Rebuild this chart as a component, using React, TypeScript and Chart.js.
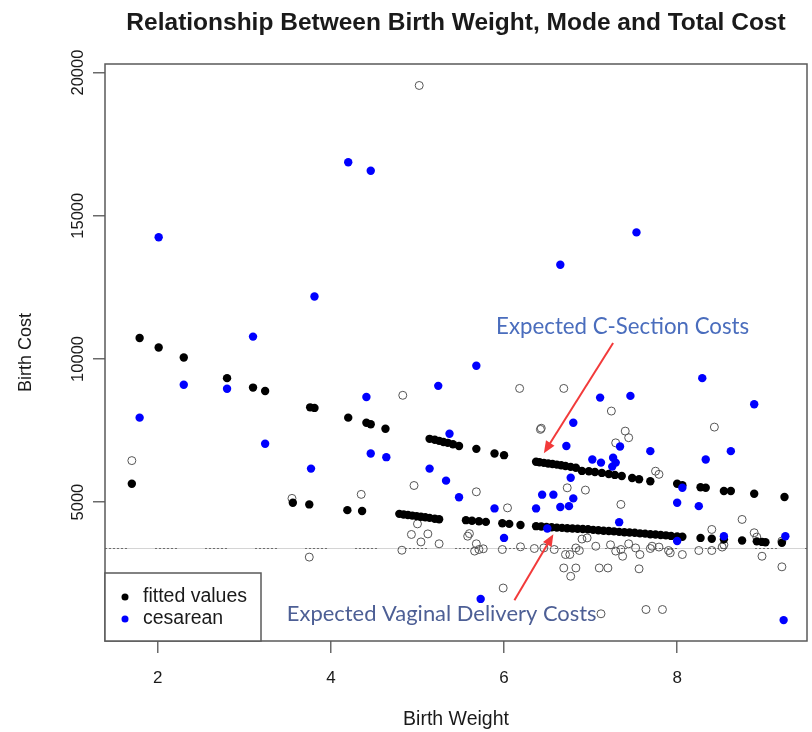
import React, { useEffect, useRef } from 'react';
import { Chart, registerables } from 'chart.js';

Chart.register(...registerables);

// ---------- text ----------
const TITLE = 'Relationship Between Birth Weight, Mode and Total Cost';
const X_LABEL = 'Birth Weight';
const Y_LABEL = 'Birth Cost';
const LEGEND_LABELS = ['fitted values', 'cesarean'];
const NOTE_CSECTION = 'Expected C-Section Costs';
const NOTE_VAGINAL = 'Expected Vaginal Delivery Costs';

// ---------- axes ----------
const X_TICKS = [2, 4, 6, 8];
const Y_TICKS = [5000, 10000, 15000, 20000];
const X_MIN = 1.39;
const X_MAX = 9.5;
const Y_MIN = 150;
const Y_MAX = 20300;
const REFERENCE_COST = 3390;

// ---------- data: [birth weight, birth cost] ----------
const fittedCesarean: number[][] = [
  [1.79, 10730], [2.01, 10400], [2.3, 10050], [2.8, 9330], [3.1, 9000], [3.24, 8880],
  [3.76, 8310], [3.81, 8290], [4.2, 7950], [4.41, 7770], [4.46, 7720], [4.63, 7560],
  [5.14, 7210], [5.2, 7180], [5.25, 7140], [5.3, 7100], [5.35, 7070], [5.41, 7020],
  [5.48, 6960], [5.68, 6860], [5.89, 6700], [6.0, 6640], [6.37, 6410], [6.41, 6390],
  [6.46, 6370], [6.51, 6350], [6.56, 6330], [6.61, 6310], [6.66, 6290], [6.71, 6260],
  [6.77, 6230], [6.83, 6200], [6.9, 6090], [6.98, 6080], [7.05, 6050], [7.13, 6020],
  [7.21, 5980], [7.28, 5950], [7.36, 5910], [7.48, 5840], [7.56, 5800], [7.69, 5730],
  [8.0, 5640], [8.06, 5590], [8.27, 5520], [8.33, 5500], [8.54, 5390], [8.62, 5390],
  [8.89, 5290], [9.24, 5180],
];

const fittedVaginal: number[][] = [
  [1.7, 5640], [3.56, 4980], [3.75, 4920], [4.19, 4720], [4.36, 4690], [4.79, 4590],
  [4.84, 4570], [4.89, 4550], [4.94, 4530], [4.99, 4510], [5.04, 4490], [5.09, 4470],
  [5.14, 4450], [5.2, 4420], [5.25, 4400], [5.56, 4370], [5.63, 4350], [5.71, 4330],
  [5.79, 4310], [5.98, 4260], [6.06, 4240], [6.19, 4200], [6.37, 4160], [6.43, 4150],
  [6.49, 4130], [6.55, 4120], [6.61, 4110], [6.67, 4100], [6.73, 4090], [6.79, 4080],
  [6.85, 4070], [6.91, 4060], [6.97, 4050], [7.03, 4030], [7.09, 4020], [7.15, 4000],
  [7.21, 3990], [7.27, 3980], [7.33, 3960], [7.39, 3950], [7.45, 3940], [7.51, 3930],
  [7.57, 3910], [7.63, 3900], [7.69, 3880], [7.75, 3870], [7.81, 3850], [7.87, 3840],
  [7.93, 3820], [8.0, 3800], [8.06, 3790], [8.27, 3750], [8.4, 3720], [8.54, 3700],
  [8.75, 3660], [8.92, 3630], [8.98, 3610], [9.02, 3600], [9.21, 3580],
];

const cesareanObserved: number[][] = [
  [2.01, 14250], [1.79, 7950], [2.3, 9100], [2.8, 8960], [3.1, 10780], [3.24, 7040],
  [3.81, 12180], [3.77, 6170], [4.2, 16870], [4.46, 16570], [4.41, 8670], [4.46, 6700],
  [4.64, 6570], [5.24, 9060], [5.14, 6170], [5.33, 5750], [5.37, 7390], [5.48, 5170],
  [5.68, 9760], [5.89, 4780], [6.37, 4780], [6.44, 5260], [6.57, 5260], [6.65, 4830],
  [6.75, 4860], [6.8, 5130], [6.77, 5850], [6.72, 6960], [6.8, 7770], [7.02, 6490],
  [7.12, 6380], [7.26, 6550], [7.29, 6380], [7.25, 6240], [7.34, 6940], [7.69, 6780],
  [7.11, 8650], [7.46, 8710], [8.29, 9330], [8.89, 8420], [8.62, 6780], [8.33, 6490],
  [8.06, 5500], [8.0, 4980], [8.25, 4860], [6.0, 3750], [6.5, 4080], [7.33, 4300],
  [8.0, 3640], [8.54, 3810], [9.25, 3810], [5.73, 1620], [9.23, 880], [6.65, 13290],
  [7.53, 14420],
];

const vaginalObserved: number[][] = [
  [5.02, 19550], [1.7, 6450], [4.83, 8730], [4.35, 5270], [4.96, 5580], [3.55, 5130],
  [3.75, 3080], [4.93, 3870], [5.12, 3890], [5.04, 3610], [5.25, 3545], [4.82, 3320],
  [5.0, 4240], [6.43, 7580], [5.68, 5360], [6.04, 4800], [6.73, 5500], [6.94, 5420],
  [5.58, 3810], [5.68, 3545], [5.76, 3370], [5.66, 3290], [5.98, 3345], [6.19, 3440],
  [6.35, 3380], [6.46, 3400], [6.58, 3345], [6.76, 3170], [6.87, 3310], [6.69, 2700],
  [6.83, 2700], [6.77, 2410], [6.9, 3710], [6.96, 3750], [5.99, 2000], [7.35, 4920],
  [5.6, 3900], [5.71, 3345], [6.83, 3400], [7.1, 2700], [7.2, 2700], [7.23, 3510],
  [7.35, 3345], [7.37, 3110], [7.29, 3290], [7.52, 3400], [7.44, 3545], [7.57, 3170],
  [7.56, 2670], [7.69, 3380], [7.79, 3430], [7.9, 3310], [8.06, 3170], [7.64, 1250],
  [7.83, 1250], [7.12, 1100], [8.25, 3310], [8.4, 3310], [8.4, 4045], [8.54, 3510],
  [8.75, 4395], [8.89, 3930], [8.92, 3780], [8.98, 3110], [9.21, 2740], [9.21, 3640],
  [6.18, 8970], [6.69, 8970], [7.24, 8180], [6.42, 7540], [7.4, 7480], [7.44, 7250],
  [7.29, 7070], [8.43, 7620], [7.75, 6080], [7.79, 5970], [8.52, 3430], [7.06, 3460],
  [7.71, 3460], [7.92, 3230], [6.71, 3170],
];

// annotation anchors in data units: [x, y]
const NOTE_CSECTION_AT = [7.37, 11120];
const NOTE_VAGINAL_AT = [5.28, 1090];
const ARROW_CSECTION = [[7.26, 10560], [6.46, 6710]];
const ARROW_VAGINAL = [[6.12, 1570], [6.57, 3880]];

const toXY = (arr: number[][]) => arr.map(([x, y]) => ({ x, y }));

const FONT = "'Liberation Sans', Arial, sans-serif";
const NOTE_FONT = "Lato, 'Open Sans', sans-serif";

function drawArrow(ctx: CanvasRenderingContext2D, x1: number, y1: number, x2: number, y2: number) {
  const ang = Math.atan2(y2 - y1, x2 - x1);
  const hl = 12;
  const hw = 5;
  ctx.save();
  ctx.strokeStyle = '#f23a3a';
  ctx.fillStyle = '#f23a3a';
  ctx.lineWidth = 2;
  ctx.beginPath();
  ctx.moveTo(x1, y1);
  ctx.lineTo(x2 - Math.cos(ang) * hl * 0.7, y2 - Math.sin(ang) * hl * 0.7);
  ctx.stroke();
  ctx.beginPath();
  ctx.moveTo(x2, y2);
  ctx.lineTo(x2 - hl * Math.cos(ang) + hw * Math.sin(ang), y2 - hl * Math.sin(ang) - hw * Math.cos(ang));
  ctx.lineTo(x2 - hl * Math.cos(ang) - hw * Math.sin(ang), y2 - hl * Math.sin(ang) + hw * Math.cos(ang));
  ctx.closePath();
  ctx.fill();
  ctx.restore();
}

const decorPlugin = {
  id: 'decor',
  beforeDatasetsDraw(chart: any) {
    const { ctx, chartArea, scales } = chart;
    const y = Math.round(scales.y.getPixelForValue(REFERENCE_COST)) + 0.5;
    ctx.save();
    ctx.strokeStyle = '#d4d4d4';
    ctx.lineWidth = 1;
    ctx.beginPath();
    ctx.moveTo(chartArea.left, y);
    ctx.lineTo(chartArea.right, y);
    ctx.stroke();
    ctx.strokeStyle = '#6e6e6e';
    ctx.setLineDash([2, 2, 2, 2, 2, 2, 2, 2, 2, 2, 2, 28]);
    ctx.beginPath();
    ctx.moveTo(chartArea.left, y);
    ctx.lineTo(chartArea.right, y);
    ctx.stroke();
    ctx.restore();
  },
  afterDraw(chart: any) {
    const { ctx, chartArea, scales } = chart;
    const sx = (v: number) => scales.x.getPixelForValue(v);
    const sy = (v: number) => scales.y.getPixelForValue(v);
    ctx.save();

    // plot box
    ctx.strokeStyle = '#5a5a5a';
    ctx.lineWidth = 1.5;
    ctx.strokeRect(chartArea.left, chartArea.top, chartArea.right - chartArea.left, chartArea.bottom - chartArea.top);

    // title
    ctx.fillStyle = '#1a1a1a';
    ctx.font = `bold 24.5px ${FONT}`;
    ctx.textAlign = 'center';
    ctx.textBaseline = 'middle';
    ctx.fillText(TITLE, (chartArea.left + chartArea.right) / 2, 23);

    // legend
    const lw = 156;
    const lh = 68;
    const lx = chartArea.left;
    const ly = chartArea.bottom - lh;
    ctx.fillStyle = '#ffffff';
    ctx.fillRect(lx, ly, lw, lh);
    ctx.strokeStyle = '#5a5a5a';
    ctx.lineWidth = 1.5;
    ctx.strokeRect(lx, ly, lw, lh);
    const colors = ['#000000', '#0000ff'];
    LEGEND_LABELS.forEach((label, i) => {
      const cy = ly + 24 + i * 22;
      ctx.fillStyle = colors[i];
      ctx.beginPath();
      ctx.arc(lx + 20, cy, 3.5, 0, Math.PI * 2);
      ctx.fill();
      ctx.fillStyle = '#1a1a1a';
      ctx.font = `19.5px ${FONT}`;
      ctx.textAlign = 'left';
      ctx.textBaseline = 'middle';
      ctx.fillText(label, lx + 38, cy);
    });

    // annotations
    const notes: [string, number[], number, string][] = [
      [NOTE_CSECTION, NOTE_CSECTION_AT, 253, '#4a6dbd'],
      [NOTE_VAGINAL, NOTE_VAGINAL_AT, 310, '#4d5f95'],
    ];
    notes.forEach(([text, at, targetW, color]) => {
      ctx.font = `20px ${NOTE_FONT}`;
      const w = ctx.measureText(text).width;
      const size = (20 * targetW) / w;
      ctx.font = `${size.toFixed(2)}px ${NOTE_FONT}`;
      ctx.fillStyle = color;
      ctx.textAlign = 'center';
      ctx.textBaseline = 'middle';
      ctx.fillText(text, sx(at[0]), sy(at[1]));
    });

    drawArrow(ctx, sx(ARROW_CSECTION[0][0]), sy(ARROW_CSECTION[0][1]), sx(ARROW_CSECTION[1][0]), sy(ARROW_CSECTION[1][1]));
    drawArrow(ctx, sx(ARROW_VAGINAL[0][0]), sy(ARROW_VAGINAL[0][1]), sx(ARROW_VAGINAL[1][0]), sy(ARROW_VAGINAL[1][1]));

    ctx.restore();
  },
};

export default function App() {
  const canvasRef = useRef<HTMLCanvasElement | null>(null);

  useEffect(() => {
    const canvas = canvasRef.current;
    if (!canvas) return;
    const chart = new Chart(canvas, {
      type: 'scatter',
      data: {
        datasets: [
          {
            label: LEGEND_LABELS[1],
            data: toXY(cesareanObserved),
            backgroundColor: '#0000ff',
            borderColor: '#0000ff',
            pointRadius: 4.2,
            borderWidth: 0,
          },
          {
            label: LEGEND_LABELS[0],
            data: toXY([...fittedCesarean, ...fittedVaginal]),
            backgroundColor: '#000000',
            borderColor: '#000000',
            pointRadius: 4.2,
            borderWidth: 0,
          },
          {
            label: 'observed',
            data: toXY(vaginalObserved),
            backgroundColor: 'rgba(255,255,255,0)',
            borderColor: '#555555',
            pointRadius: 4,
            borderWidth: 1,
          },
        ],
      },
      options: {
        responsive: false,
        animation: false,
        events: [],
        layout: { padding: { top: 64, right: 4, left: 0, bottom: 0 } },
        plugins: {
          legend: { display: false },
          title: { display: false },
          tooltip: { enabled: false },
        },
        scales: {
          x: {
            type: 'linear',
            min: X_MIN,
            max: X_MAX,
            afterBuildTicks: (s: any) => {
              s.ticks = X_TICKS.map((v) => ({ value: v }));
            },
            afterFit: (s: any) => {
              s.height = 91;
            },
            border: { display: false },
            grid: { drawOnChartArea: false, drawTicks: true, tickLength: 12, color: '#6a6a6a', lineWidth: 1.5 },
            ticks: {
              autoSkip: false,
              maxRotation: 0,
              minRotation: 0,
              padding: 15,
              color: '#1a1a1a',
              font: { family: FONT, size: 17 },
              callback: (v: any) => String(v),
            },
            title: {
              display: true,
              text: X_LABEL,
              color: '#1a1a1a',
              font: { family: FONT, size: 19.5 },
              padding: { top: 0, bottom: 1 },
            },
          },
          y: {
            type: 'linear',
            min: Y_MIN,
            max: Y_MAX,
            afterBuildTicks: (s: any) => {
              s.ticks = Y_TICKS.map((v) => ({ value: v }));
            },
            afterFit: (s: any) => {
              s.width = 105;
            },
            border: { display: false },
            grid: { drawOnChartArea: false, drawTicks: true, tickLength: 12, color: '#6a6a6a', lineWidth: 1.5 },
            ticks: {
              autoSkip: false,
              minRotation: 90,
              maxRotation: 90,
              crossAlign: 'center',
              padding: -8,
              color: '#1a1a1a',
              font: { family: FONT, size: 16.5 },
              callback: (v: any) => String(v),
            },
            title: {
              display: true,
              text: Y_LABEL,
              color: '#1a1a1a',
              font: { family: FONT, size: 18 },
              padding: { top: 15, bottom: 0 },
            },
          },
        },
      },
      plugins: [decorPlugin],
    } as any);
    return () => chart.destroy();
  }, []);

  return (
    <div style={{ position: 'fixed', left: 0, top: 0, width: 812, height: 732, background: '#ffffff' }}>
      <canvas ref={canvasRef} width={812} height={732} style={{ display: 'block' }} />
    </div>
  );
}
